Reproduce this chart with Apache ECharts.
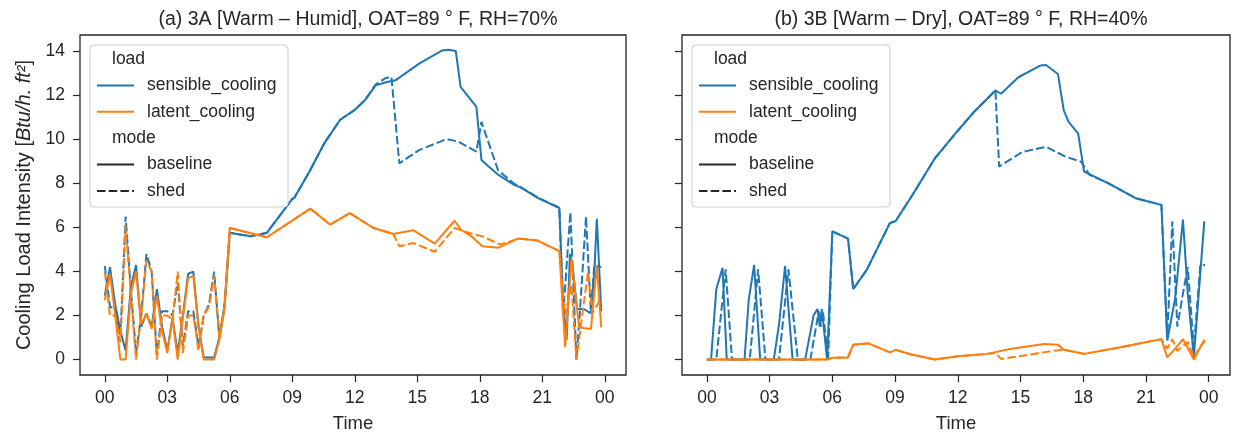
<!DOCTYPE html>
<html lang="en">
<head>
<meta charset="UTF-8">
<title>Cooling load intensity</title>
<style>
  html, body { margin: 0; background: #fff; }
  #main { width: 1233px; height: 438px; }
</style>
</head>
<body>
<div id="main"></div>
<script src="https://cdn.jsdelivr.net/npm/echarts@6/dist/echarts.min.js"></script>
<script>
// [hour, load] pairs, panel (a) 3A
var aSensBase = [[0,2.9],[0.25,4.2],[0.5,2.5],[0.75,1.3],[1.0,0.4],[1.25,3.3],[1.5,4.3],[1.75,1.5],[2.0,2.1],[2.25,1.5],[2.5,3.2],[2.75,1.5],[3.0,0.4],[3.25,1.9],[3.5,0.3],[3.75,2.0],[4.0,3.9],[4.25,4.0],[4.5,1.5],[4.75,0.1],[5.0,0.1],[5.25,0.1],[5.5,1.0],[5.75,2.5],
  [6.0,5.76],[7.0,5.6],[7.78,5.76],[9.0,7.3],[9.1,7.35],[9.8,8.5],[10.55,9.85],[11.3,10.9],[12.0,11.35],[12.5,11.8],[13.0,12.46],[13.5,12.6],[13.95,12.69],[15.09,13.45],[16.2,14.05],[16.5,14.08],[16.85,14.02],[17.08,12.39],[17.84,11.48],[18.08,9.07],[18.4,8.8],[18.9,8.39],[19.65,7.94],[20.0,7.8],[20.8,7.34],[21.82,6.89],
  [22.0,2.6],[22.17,0.9],[22.33,4.8],[22.5,3.9],[22.67,2.3],[23.0,2.3],[23.33,2.1],[23.5,4.0],[23.62,6.4],[23.83,2.2]];
var aSensShed = [[0,4.25],[0.25,2.4],[0.5,2.3],[0.75,1.1],[1.0,6.5],[1.25,3.2],[1.5,0.3],[1.75,2.0],[2.0,4.8],[2.25,4.0],[2.5,0.2],[2.75,2.2],[3.0,2.2],[3.25,2.0],[3.5,3.5],[3.75,0.6],[4.0,2.2],[4.25,2.2],[4.5,0.6],[4.75,2.0],[5.0,2.5],[5.25,4.0],[5.5,1.0],[5.75,2.4],
  [6.0,5.76],[7.0,5.6],[7.78,5.76],[9.0,7.3],[9.1,7.35],[9.8,8.5],[10.55,9.85],[11.3,10.9],[12.0,11.35],[12.5,11.8],[13.0,12.5],[13.5,12.8],[13.76,12.84],[14.14,8.92],[15.09,9.52],[16.41,10.02],[16.98,9.9],[17.84,9.45],[18.08,10.8],[18.88,8.6],[19.64,8.0],[20.0,7.82],[20.8,7.36],[21.82,6.9],
  [22.0,2.0],[22.35,6.7],[22.64,0.0],[22.83,2.5],[23.1,6.5],[23.33,2.2],[23.5,4.3],[23.83,4.2]];
var aLatBase = [[0,2.7],[0.25,3.9],[0.5,2.0],[0.75,0],[1.0,0],[1.25,3.0],[1.5,4.0],[1.75,1.6],[2.0,2.1],[2.25,1.4],[2.5,2.9],[2.75,1.3],[3.0,0.3],[3.25,1.9],[3.5,0],[3.75,1.9],[4.0,3.7],[4.25,3.8],[4.5,1.5],[4.75,0],[5.0,0],[5.25,0],[5.5,0.9],[5.75,2.4],
  [6.0,5.98],[7.78,5.56],[9.87,6.86],[10.82,6.13],[11.76,6.66],[12.9,5.98],[13.85,5.71],[14.8,5.88],[15.84,5.27],[16.79,6.31],[17.1,5.9],[17.6,5.6],[18.12,5.15],[18.88,5.08],[19.83,5.5],[20.78,5.41],[21.82,4.93],
  [22.1,0.56],[22.4,4.55],[22.77,1.46],[23.34,1.39],[23.62,4.3],[23.83,1.46]];
var aLatShed = [[0,4.0],[0.25,2.0],[0.5,2.0],[0.75,0.8],[1.0,6.1],[1.25,3.0],[1.5,0],[1.75,2.0],[2.0,4.5],[2.25,4.0],[2.5,0],[2.75,2.0],[3.0,2.0],[3.25,1.8],[3.5,4.0],[3.75,0.3],[4.0,2.0],[4.25,2.0],[4.5,0.4],[4.75,2.0],[5.0,2.4],[5.25,3.8],[5.5,1.0],[5.75,2.3],
  [6.0,5.98],[7.78,5.56],[9.87,6.86],[10.82,6.13],[11.76,6.66],[12.9,5.98],[13.85,5.71],[14.14,5.15],[14.8,5.3],[15.84,4.9],[16.79,5.98],[17.5,5.75],[18.12,5.6],[18.97,5.23],[19.4,5.35],[19.83,5.5],[20.78,5.41],[21.82,4.93],
  [22.1,2.0],[22.4,3.4],[22.64,0],[23.0,2.6],[23.2,4.0],[23.4,2.1],[23.83,2.8]];

// panel (b) 3B
var bSensBase = [[0,0],[0.2,0],[0.45,3.2],[0.75,4.17],[0.95,0],[1.8,0],[2.0,2.7],[2.26,4.3],[2.55,0],[3.2,0],[3.45,1.6],[3.74,4.25],[4.1,0],[4.7,0],[5.1,2.0],[5.29,2.3],[5.4,1.5],[5.5,2.3],[5.75,0],
  [6.0,5.83],[6.75,5.5],[7.0,3.2],[7.66,4.1],[8.75,6.2],[9.03,6.3],[9.78,7.4],[10.9,9.14],[12.0,10.4],[12.77,11.25],[13.8,12.23],[14.07,12.08],[14.9,12.83],[15.94,13.36],[16.22,13.39],[16.79,12.98],[17.07,11.32],[17.3,10.8],[17.76,10.27],[18.04,8.54],[19.21,8.01],[20.52,7.33],[21.74,7.03],
  [22.02,0.86],[22.4,2.8],[22.77,6.36],[23.0,3.0],[23.29,0.1],[23.79,6.28]];
var bSensShed = [[0,0],[0.45,0],[0.9,4.1],[1.2,0],[2.05,0],[2.45,4.1],[2.8,0],[3.45,0],[3.9,4.1],[4.35,0],[4.95,0],[5.35,2.2],[5.45,1.5],[5.55,2.2],[5.8,0],
  [6.0,5.83],[6.75,5.5],[7.0,3.2],[7.66,4.1],[8.75,6.2],[9.03,6.3],[9.78,7.4],[10.9,9.14],[12.0,10.4],[12.77,11.25],[13.8,12.23],[13.98,8.77],[15.1,9.44],[16.22,9.67],[17.16,9.22],[17.9,8.99],[18.3,8.4],[19.21,8.01],[20.52,7.33],[21.74,7.03],
  [22.02,1.0],[22.26,6.28],[22.5,1.5],[22.77,3.0],[23.0,4.2],[23.29,0.5],[23.6,4.3],[23.83,4.3]];
var bLatBase = [[0,0],[5.75,0],[6.0,0.08],[6.75,0.1],[7.0,0.68],[7.72,0.74],[8.75,0.33],[9.03,0.44],[9.78,0.23],[10.9,0.0],[12.0,0.15],[13.4,0.26],[14.5,0.48],[16.13,0.71],[16.79,0.68],[17.07,0.45],[18.04,0.26],[19.78,0.56],[21.74,0.93],
  [22.02,0.1],[22.4,0.5],[22.77,0.93],[23.29,0.0],[23.79,0.9]];
var bLatShed = [[0,0],[5.75,0],[6.0,0.08],[6.75,0.1],[7.0,0.68],[7.72,0.74],[8.75,0.33],[9.03,0.44],[9.78,0.23],[10.9,0.0],[12.0,0.15],[13.4,0.26],[13.8,0.3],[14.07,0.03],[16.6,0.4],[17.07,0.45],[18.04,0.26],[19.78,0.56],[21.74,0.93],
  [22.02,0.5],[22.26,0.93],[22.5,0.4],[23.0,0.8],[23.29,0.1],[23.6,0.6],[23.83,0.85]];

var hourTicks = [0, 3, 6, 9, 12, 15, 18, 21, 24];
var loadTicks = [0, 2, 4, 6, 8, 10, 12, 14];
var titles = ['(a) 3A [Warm \u2013 Humid], OAT=89 \u00b0 F, RH=70%', '(b) 3B [Warm \u2013 Dry], OAT=89 \u00b0 F, RH=40%'];
var loadNames = ['sensible_cooling', 'latent_cooling'];
var modeNames = ['baseline', 'shed'];

var font = 'Liberation Sans, Arial, sans-serif';
var ink = '#262626';
var blue = '#1f77b4', orange = '#ff7f0e';
var dash = [8.5, 3.2];

var myChart = echarts.init(document.getElementById('main'), null, { renderer: 'canvas' });

var grids = [
  { left: 80, top: 35, width: 546, height: 343 },
  { left: 682, top: 35, width: 548, height: 343 }
];

function pad(v) {
  var h = v % 24;
  return (h < 10 ? '0' : '') + h;
}

function makeX(i) {
  return {
    type: 'value', gridIndex: i, min: -1.19, max: 25.02,
    name: 'Time', nameLocation: 'middle', nameGap: 39,
    nameTextStyle: { fontSize: 18.5, color: ink, fontFamily: font },
    axisLine: { show: false, onZero: false },
    axisTick: { show: true, length: 7, customValues: hourTicks, lineStyle: { color: ink, width: 1.2 } },
    axisLabel: { customValues: hourTicks, formatter: pad, margin: 14, fontSize: 17.5, color: ink, fontFamily: font },
    splitLine: { show: false }
  };
}

function makeY(i) {
  var y = {
    type: 'value', gridIndex: i, min: -0.70, max: 14.75,
    axisLine: { show: false, onZero: false },
    axisTick: { show: true, length: 7, customValues: loadTicks, lineStyle: { color: ink, width: 1.2 } },
    axisLabel: { show: i === 0, customValues: loadTicks, margin: 15, fontSize: 17.5, color: ink, fontFamily: font },
    splitLine: { show: false }
  };
  if (i === 0) {
    y.name = 'Cooling Load Intensity [{i|Btu/h. ft\u00b2}]';
    y.nameLocation = 'middle';
    y.nameGap = 46;
    y.nameTextStyle = { fontSize: 20, color: ink, fontFamily: font, rich: { i: { fontStyle: 'italic', fontSize: 20, color: ink, fontFamily: font } } };
  }
  return y;
}

function line(name, data, i, color, type) {
  return {
    name: name, type: 'line', xAxisIndex: i, yAxisIndex: i, data: data,
    showSymbol: false, symbol: 'none', silent: true,
    lineStyle: { color: color, width: 2, type: type }
  };
}

// legend box drawn by hand (matplotlib style with load / mode headings)
function legendBox(x0) {
  var els = [{
    type: 'rect', shape: { x: x0, y: 45, width: 198, height: 162, r: 4 },
    style: { fill: 'rgba(255,255,255,0.85)', stroke: '#cccccc', lineWidth: 1 }, z: 100
  }];
  var rows = [
    { text: 'load', head: true },
    { text: loadNames[0], color: blue },
    { text: loadNames[1], color: orange },
    { text: 'mode', head: true },
    { text: modeNames[0], color: ink },
    { text: modeNames[1], color: ink, dash: true }
  ];
  rows.forEach(function (r, k) {
    var y = 59 + k * 26.4;
    if (!r.head) {
      els.push({
        type: 'line', shape: { x1: x0 + 7, y1: y, x2: x0 + 44, y2: y },
        style: { stroke: r.color, lineWidth: 2, lineDash: r.dash ? dash : null }, z: 101
      });
    }
    els.push({
      type: 'text', x: r.head ? x0 + 22 : x0 + 57, y: y,
      style: { text: r.text, fill: ink, font: '17.5px ' + font, textVerticalAlign: 'middle' }, z: 101
    });
  });
  return els;
}

var option = {
  animation: false,
  backgroundColor: '#fff',
  title: [
    { text: titles[0], left: 353, top: 5, textAlign: 'center', textStyle: { fontSize: 19.5, fontWeight: 'normal', color: ink, fontFamily: font } },
    { text: titles[1], left: 956, top: 5, textAlign: 'center', textStyle: { fontSize: 19.5, fontWeight: 'normal', color: ink, fontFamily: font } }
  ],
  grid: grids.map(function (g) {
    return Object.assign({ show: true, borderColor: ink, borderWidth: 1.3, backgroundColor: 'transparent' }, g);
  }),
  xAxis: [makeX(0), makeX(1)],
  yAxis: [makeY(0), makeY(1)],
  series: [
    line('sensible_cooling baseline', aSensBase, 0, blue, 'solid'),
    line('sensible_cooling shed', aSensShed, 0, blue, dash),
    line('latent_cooling baseline', aLatBase, 0, orange, 'solid'),
    line('latent_cooling shed', aLatShed, 0, orange, dash),
    line('sensible_cooling baseline', bSensBase, 1, blue, 'solid'),
    line('sensible_cooling shed', bSensShed, 1, blue, dash),
    line('latent_cooling baseline', bLatBase, 1, orange, 'solid'),
    line('latent_cooling shed', bLatShed, 1, orange, dash)
  ],
  graphic: legendBox(90).concat(legendBox(692))
};

myChart.setOption(option);
</script>
</body>
</html>
